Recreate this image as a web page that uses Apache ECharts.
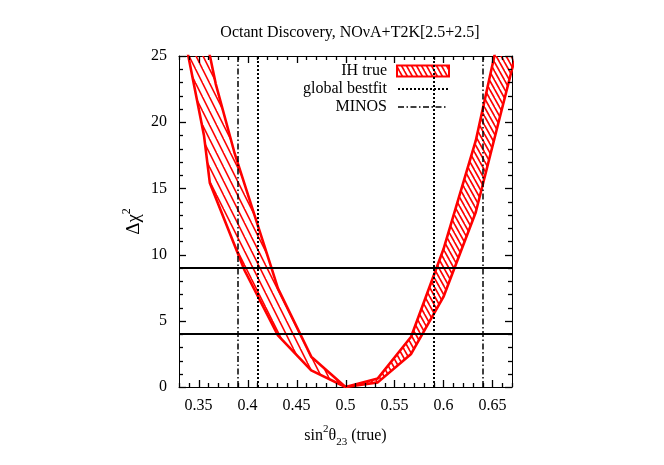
<!DOCTYPE html>
<html lang="en">
<head>
<meta charset="utf-8">
<script src="https://cdn.jsdelivr.net/npm/echarts@6/dist/echarts.min.js"></script>
</head>
<body style="margin: 0">
<div id="container" style="width: 664px; height: 465px"></div>
<script type="text/javascript">
// band edges: [sin^2(theta23), delta chi^2]
const leftOuter = [[0.336, 26.3], [0.3395, 25], [0.3555, 19.0], [0.3615, 15.4], [0.397, 8.8], [0.431, 3.9], [0.465, 1.25], [0.5, 0]];
const leftInner = [[0.358, 26.3], [0.3616, 25], [0.3675, 22.9], [0.387, 17.6], [0.4244, 9.0], [0.431, 7.45], [0.465, 2.29], [0.5, 0]];
const rightUpper = [[0.5, 0], [0.533, 0.65], [0.567, 3.8], [0.6, 10.4], [0.633, 18.6], [0.652, 25], [0.67, 31]];
const rightLower = [[0.5, 0], [0.533, 0.35], [0.567, 2.5], [0.6, 6.8], [0.633, 13.2], [0.67, 24.0], [0.68, 26.5]];

const bestfitX = [0.41, 0.589];
const minosX = [0.385, 0.635];
const clLevels = [4, 9];

const xMajor = [0.35, 0.4, 0.45, 0.5, 0.55, 0.6, 0.65];
const xMinor = [0.33, 0.34, 0.36, 0.37, 0.38, 0.39, 0.41, 0.42, 0.43, 0.44, 0.46, 0.47, 0.48, 0.49,
    0.51, 0.52, 0.53, 0.54, 0.56, 0.57, 0.58, 0.59, 0.61, 0.62, 0.63, 0.64, 0.66, 0.67];
const yMajor = [0, 5, 10, 15, 20, 25];
const yMinor = [1, 2, 3, 4, 6, 7, 8, 9, 11, 12, 13, 14, 16, 17, 18, 19, 21, 22, 23, 24];

const xRange = [0.33, 0.67];
const yRange = [0, 25];

const legendNames = ['IH true', 'global bestfit', 'MINOS'];

const serif = 'Liberation Serif';
const red = '#ff0000';

// hatch tile: "\" lines, w = horizontal spacing, h/w = slope
function hatch(w, h, lw) {
    const c = document.createElement('canvas');
    c.width = w;
    c.height = h;
    const g = c.getContext('2d');
    g.strokeStyle = red;
    g.lineWidth = lw;
    [-w, 0, w].forEach(function (dx) {
        g.beginPath();
        g.moveTo(dx - w, -h);
        g.lineTo(dx + 2 * w, 2 * h);
        g.stroke();
    });
    return { image: c, repeat: 'repeat' };
}
const sparse = hatch(7, 14, 1.6);
const dense = hatch(5, 9, 1.6);

const bands = [
    { a: leftOuter, b: leftInner, fill: sparse },
    { a: rightLower, b: rightUpper, fill: dense }
];

const black = { color: '#000', width: 1 };

const xMain = {
    type: 'value', min: xRange[0], max: xRange[1], position: 'bottom',
    axisLine: { show: true, onZero: false, lineStyle: black },
    axisTick: { show: false },
    axisLabel: { customValues: xMajor, margin: 11, fontFamily: serif, fontSize: 16, color: '#000' },
    splitLine: { show: false },
    name: '{a|sin}{s|2}{a|θ}{b|23}{a| (true)}',
    nameLocation: 'middle',
    nameGap: 37,
    nameMoveOverlap: false,
    nameTextStyle: {
        rich: {
            a: { fontFamily: serif, fontSize: 16, color: '#000', lineHeight: 24 },
            s: { fontFamily: serif, fontSize: 11, color: '#000', verticalAlign: 'top' },
            b: { fontFamily: serif, fontSize: 11, color: '#000', verticalAlign: 'bottom' }
        }
    }
};
const xTop = {
    type: 'value', min: xRange[0], max: xRange[1], position: 'top',
    axisLine: { show: true, onZero: false, lineStyle: black },
    axisTick: { show: false }, axisLabel: { show: false }, splitLine: { show: false }
};
const yMain = {
    type: 'value', min: yRange[0], max: yRange[1], interval: 5, position: 'left',
    axisLine: { show: true, onZero: false, lineStyle: black },
    axisTick: { show: false },
    axisLabel: { margin: 12, fontFamily: serif, fontSize: 16, color: '#000' },
    splitLine: { show: false },
    name: '{a|Δχ}{s|2}',
    nameLocation: 'middle',
    nameGap: 32,
    nameMoveOverlap: false,
    nameTextStyle: {
        rich: {
            a: { fontFamily: serif, fontSize: 19, color: '#000', lineHeight: 26 },
            s: { fontFamily: serif, fontSize: 12, color: '#000', verticalAlign: 'top' }
        }
    }
};
const yRight = {
    type: 'value', min: yRange[0], max: yRange[1], interval: 5, position: 'right',
    axisLine: { show: true, onZero: false, lineStyle: black },
    axisTick: { show: false }, axisLabel: { show: false }, splitLine: { show: false }
};

const edgeSeries = [leftOuter, leftInner, rightUpper, rightLower].map(function (d) {
    return {
        type: 'line', data: d, symbol: 'none', silent: true, z: 2,
        lineStyle: { color: red, width: 2.6 }
    };
});

const vStyle = {
    bestfit: { color: '#000', width: 2, type: [2, 2] },
    minos: { color: '#000', width: 1.5, type: [6, 2.5, 1.5, 2.5] }
};

const legendEls = [
    { type: 'text', x: 387, y: 71, style: { text: legendNames[0], font: '16px "Liberation Serif"', fill: '#000', align: 'right', verticalAlign: 'middle' } },
    { type: 'text', x: 387, y: 89, style: { text: legendNames[1], font: '16px "Liberation Serif"', fill: '#000', align: 'right', verticalAlign: 'middle' } },
    { type: 'text', x: 387, y: 107, style: { text: legendNames[2], font: '16px "Liberation Serif"', fill: '#000', align: 'right', verticalAlign: 'middle' } },
    { type: 'rect', shape: { x: 397, y: 65.5, width: 52, height: 11 }, style: { fill: dense, stroke: red, lineWidth: 2 } },
    { type: 'line', shape: { x1: 398, y1: 89, x2: 448, y2: 89 }, style: { stroke: '#000', lineWidth: 2, lineDash: [2, 2] } },
    { type: 'line', shape: { x1: 398, y1: 107, x2: 448, y2: 107 }, style: { stroke: '#000', lineWidth: 1.5, lineDash: [6, 2.5, 1.5, 2.5] } }
];

var myChart = echarts.init(document.getElementById('container'), null, { renderer: 'canvas' });
var option = {
    animation: false,
    backgroundColor: '#fff',
    title: {
        text: 'Octant Discovery, NOνA+T2K[2.5+2.5]',
        left: 345, top: 20, textAlign: 'center',
        textStyle: { fontFamily: serif, fontSize: 16, fontWeight: 'normal', color: '#000' }
    },
    grid: { left: 179, right: 152, top: 56, bottom: 78 },
    xAxis: [xMain, xTop],
    yAxis: [yMain, yRight],
    series: [
        {
            type: 'custom', name: legendNames[0], clip: true, silent: true, z: 1,
            data: [[0.5, 0], [0.5, 0]],
            renderItem: function (params, api) {
                const b = bands[params.dataIndex];
                const pts = b.a.concat(b.b.slice().reverse()).map(function (p) { return api.coord(p); });
                return { type: 'polygon', shape: { points: pts }, style: { fill: b.fill, stroke: null } };
            }
        }
    ].concat(edgeSeries).concat([
        {
            type: 'line', data: [], z: 3,
            markLine: {
                silent: true, symbol: ['none', 'none'], label: { show: false },
                data: clLevels.map(function (v) {
                    return { yAxis: v, lineStyle: { color: '#000', width: 2, type: 'solid' } };
                }).concat(bestfitX.map(function (v) {
                    return { xAxis: v, lineStyle: vStyle.bestfit };
                })).concat(minosX.map(function (v) {
                    return { xAxis: v, lineStyle: vStyle.minos };
                }))
            }
        }
    ]),
    graphic: legendEls
};
myChart.setOption(option);

// inward tick marks on all four sides, placed through the chart's own scales
function px(p) { return myChart.convertToPixel({ gridIndex: 0 }, p); }
function tick(x1, y1, x2, y2) {
    return { type: 'line', z: 100, silent: true, shape: { x1: x1, y1: y1, x2: x2, y2: y2 }, style: { stroke: '#000', lineWidth: 1.3 } };
}
const tickEls = [];
[[xMajor, 7], [xMinor, 4]].forEach(function (t) {
    t[0].forEach(function (v) {
        const b = px([v, yRange[0]]);
        const top = px([v, yRange[1]]);
        const x = Math.round(b[0]) + 0.5;
        tickEls.push(tick(x, b[1], x, b[1] - t[1]));
        tickEls.push(tick(x, top[1], x, top[1] + t[1]));
    });
});
[[yMajor, 7], [yMinor, 4]].forEach(function (t) {
    t[0].forEach(function (v) {
        const l = px([xRange[0], v]);
        const r = px([xRange[1], v]);
        const y = Math.round(l[1]) + 0.5;
        tickEls.push(tick(l[0], y, l[0] + t[1], y));
        tickEls.push(tick(r[0], y, r[0] - t[1], y));
    });
});
myChart.setOption({ graphic: legendEls.concat(tickEls) });

window.addEventListener('resize', myChart.resize);
</script>
</body>
</html>
